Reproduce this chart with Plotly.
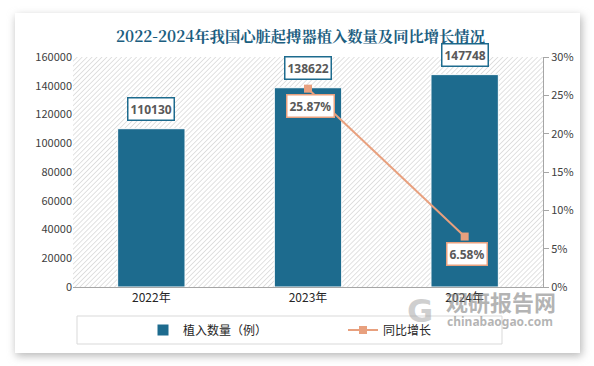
import base64
import plotly.graph_objects as go

years = ["2022年", "2023年", "2024年"]
implants = [110130, 138622, 147748]
growth_years = ["2023年", "2024年"]
growth = [0.2587, 0.0658]
growth_labels = ["25.87%", "6.58%"]

W, H = 594, 366
L, R, T, B = 73, 51, 57, 79
PW, PH = W - L - R, H - T - B

def px(x):
    return (x - L) / PW

def py(y):
    return (H - B - y) / PH

BAR = "#1D6B8E"
LINE = "#E8A07E"

fig = go.Figure()
fig.add_trace(go.Bar(
    x=years, y=implants, name="植入数量（例）", marker=dict(color=BAR, line=dict(color="white", width=1)),
    width=0.43, yaxis="y",
))
fig.add_trace(go.Scatter(
    x=growth_years, y=growth, name="同比增长", mode="lines+markers",
    line=dict(color=LINE, width=2), marker=dict(symbol="square", size=8, color=LINE),
    yaxis="y2",
))

for x, v in zip(years, implants):
    fig.add_annotation(x=x, y=v, xref="x", yref="y", text=f"<b>{v}</b>", showarrow=False,
                       yanchor="bottom", yshift=8, font=dict(size=12, color="#595959", family="Noto Sans"),
                       bgcolor="white", bordercolor=BAR, borderwidth=1.5, borderpad=2)
for x, v, t in zip(growth_years, growth, growth_labels):
    fig.add_annotation(x=x, y=v, xref="x", yref="y2", text=f"<b>{t}</b>", showarrow=False,
                       yanchor="top", yshift=-5, xshift=2, font=dict(size=12, color="#595959", family="Noto Sans"),
                       bgcolor="white", bordercolor=LINE, borderwidth=1.5, borderpad=2)

# full-page background: shadowed card + hatched plot area
svg = (f'<svg xmlns="http://www.w3.org/2000/svg" width="{W}" height="{H}" viewBox="0 0 {W} {H}" preserveAspectRatio="none">'
       '<defs><pattern id="p" width="3.5" height="3.5" patternUnits="userSpaceOnUse" patternTransform="rotate(45)">'
       '<rect width="4" height="4" fill="white"/><line x1="0" y1="0" x2="0" y2="4" stroke="#c4c4c4" stroke-width="1"/></pattern>'
       '<filter id="s" x="-10%" y="-10%" width="120%" height="120%"><feGaussianBlur stdDeviation="4"/></filter></defs>'
       f'<rect width="{W}" height="{H}" fill="white"/>'
       '<rect x="16" y="16" width="566" height="340" fill="#b8b8b8" filter="url(#s)"/>'
       '<rect x="15" y="13" width="565" height="340" fill="white"/>'
       f'<rect x="{L}" y="{T}" width="{PW}" height="{PH}" fill="url(#p)"/></svg>')
uri = "data:image/svg+xml;base64," + base64.b64encode(svg.encode()).decode()
fig.add_layout_image(source=uri, xref="paper", yref="paper", x=px(0), y=py(0), sizex=W / PW, sizey=H / PH,
                     xanchor="left", yanchor="top", sizing="stretch", layer="below")

shapes = [dict(type="rect", xref="paper", yref="paper", layer="above",
               x0=px(77), x1=px(502), y0=py(316), y1=py(344), line=dict(color="#d9d9d9", width=1),
               fillcolor="rgba(0,0,0,0)")]

fig.add_annotation(xref="paper", yref="paper", x=px(300), y=py(35), xanchor="center", yanchor="middle",
                   showarrow=False, text="<b>2022-2024年我国心脏起搏器植入数量及同比增长情况</b>",
                   font=dict(size=15.3, color="#1C5E80", family="Noto Serif CJK SC, Noto Sans CJK SC"))
# watermark
fig.add_annotation(xref="paper", yref="paper", x=px(501), y=py(301), xanchor="center", yanchor="middle",
                   showarrow=False, text="<b>观研报告网</b>",
                   font=dict(size=22, color="rgba(130,130,130,0.6)", family="Noto Sans CJK SC"))
fig.add_annotation(xref="paper", yref="paper", x=px(500), y=py(321), xanchor="center", yanchor="middle",
                   showarrow=False, text="<b>chinabaogao.com</b>",
                   font=dict(size=12, color="rgba(130,130,130,0.6)", family="Noto Sans"))
fig.add_annotation(xref="paper", yref="paper", x=px(420), y=py(311), xanchor="center", yanchor="middle",
                   showarrow=False, text="<b>G</b>",
                   font=dict(size=32, color="rgba(160,160,160,0.5)", family="DejaVu Sans"))

fig.update_layout(
    width=W, height=H, margin=dict(l=L, r=R, t=T, b=B, autoexpand=False),
    paper_bgcolor="white", plot_bgcolor="rgba(0,0,0,0)",
    font=dict(family="Noto Sans CJK SC", size=11, color="#404040"),
    shapes=shapes,
    xaxis=dict(showgrid=False, showline=True, linecolor="#a6a6a6", linewidth=1, ticks="",
               tickfont=dict(size=12, color="#262626")),
    yaxis=dict(range=[0, 160000], dtick=20000, showgrid=False, zeroline=False, showline=False,
               tickformat="d", ticks="", tickfont=dict(size=11, color="#404040")),
    yaxis2=dict(range=[0, 0.3], dtick=0.05, overlaying="y", side="right", tickformat=".0%",
                showgrid=False, zeroline=False, showline=True, linecolor="#a6a6a6", ticks="outside",
                ticklen=5, tickcolor="#a6a6a6", tickfont=dict(size=11, color="#404040")),
    showlegend=True,
    legend=dict(orientation="h", x=px(143), y=py(330), xanchor="left", yanchor="middle",
                bgcolor="rgba(0,0,0,0)", font=dict(size=12, color="#262626"),
                entrywidth=155, entrywidthmode="pixels", itemwidth=30),
)

fig.write_html("out.html", config={"displayModeBar": False},
               post_script="document.body.style.margin='0';document.body.style.overflow='hidden';")
